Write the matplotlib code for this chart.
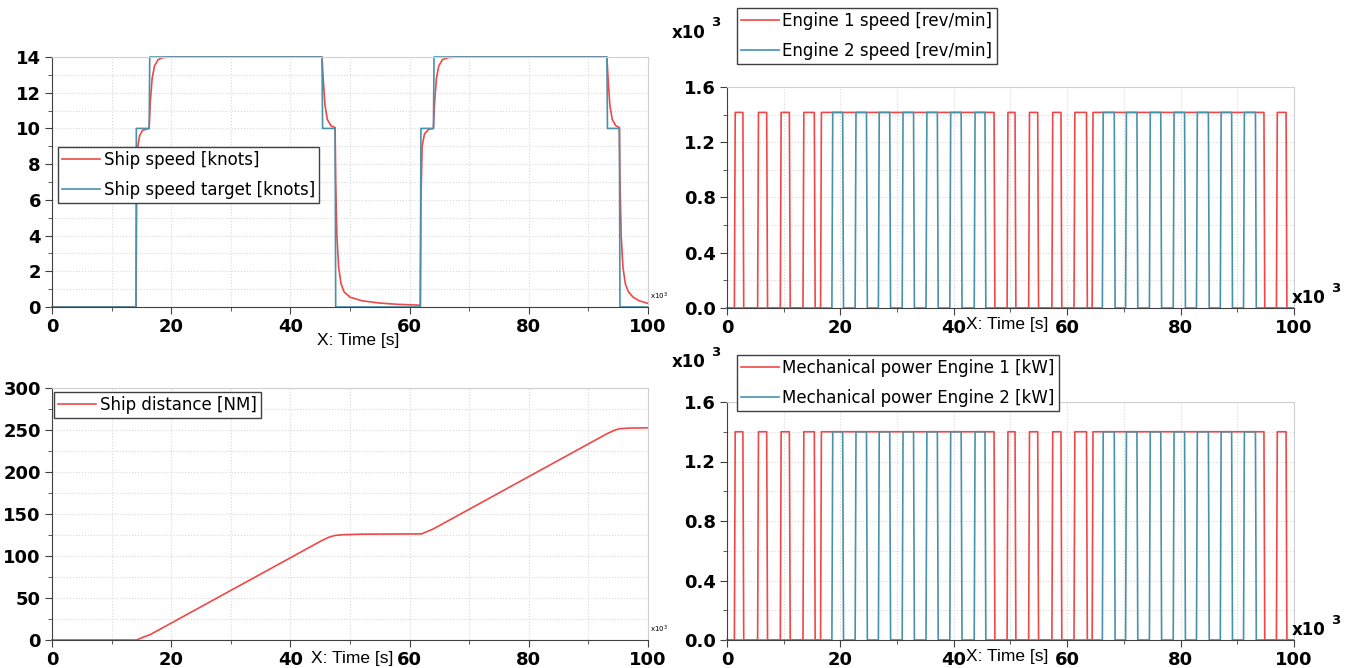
import numpy as np
import matplotlib
matplotlib.use("Agg")
import matplotlib.pyplot as plt
from matplotlib.ticker import MultipleLocator, FormatStrFormatter

RED = "#f04848"
BLUE = "#4a92aa"

# time in x10^3 s
target_t = [0, 14.1, 14.15, 16.3, 16.4, 45.3, 45.4, 47.5, 47.6, 61.8, 61.9, 64.0, 64.1, 93.1, 93.2, 95.2, 95.3, 100]
target_v = [0, 0, 10, 10, 14, 14, 10, 10, 0, 0, 10, 10, 14, 14, 10, 10, 0, 0]

speed_t = [0, 14.1, 14.2, 14.4, 14.7, 15.2, 16.3, 16.5, 16.8, 17.2, 17.8, 18.6, 20, 45.3, 45.5, 45.8, 46.2,
           46.8, 47.5, 47.6, 47.8, 48.1, 48.5, 49.0, 50, 52, 55, 58, 61.8, 61.9, 62.1, 62.5, 63.2, 64.0,
           64.2, 64.5, 64.9, 65.5, 66.5, 68, 93.1, 93.3, 93.6, 94.0, 94.6, 95.2, 95.3, 95.5, 95.8, 96.2,
           96.7, 97.5, 98.5, 100]
speed_v = [0, 0, 6, 9.0, 9.6, 9.9, 10.0, 11.5, 12.8, 13.5, 13.85, 13.97, 14.0, 14.0, 12.8, 11.3, 10.5,
           10.15, 10.05, 7, 4.0, 2.2, 1.3, 0.85, 0.55, 0.35, 0.22, 0.15, 0.1, 6, 9.0, 9.7, 9.95, 10.0,
           11.5, 12.8, 13.5, 13.85, 13.97, 14.0, 14.0, 12.8, 11.3, 10.5, 10.15, 10.05, 7, 4.0, 2.2, 1.3,
           0.85, 0.55, 0.35, 0.2]

dist_t = [0, 14.2, 15.0, 16.5, 45.3, 46.5, 47.5, 49.0, 52, 62.0, 64.0, 93.1, 94.3, 95.3, 97, 100]
dist_v = [0, 0, 2.5, 6.5, 118.5, 122.5, 124.5, 125.4, 126.0, 126.3, 132.3, 245.5, 249.5, 251.6, 252.3, 252.6]

eng1_on = [1.3, 5.4, 9.4, 13.4, 16.5, 49.4, 53.2, 57.3, 61.2, 64.4, 96.9]
eng1_off = [2.8, 7.0, 11.0, 15.4, 47.1, 50.8, 54.8, 58.9, 63.4, 94.7, 98.6]
eng2_on = [18.5, 22.6, 26.7, 30.9, 35.1, 39.3, 43.6, 66.2, 70.3, 74.5, 78.7, 82.8, 87.0, 91.1]
eng2_off = [20.4, 24.6, 28.7, 32.9, 37.1, 41.3, 45.5, 68.3, 72.3, 76.5, 80.7, 84.9, 89.0, 93.2]
eng_speed_max = 1.416
eng_power_max = 1.400


def pulses(on, off, level, ramp=0.15):
    t, y = [0], [0]
    for a, b in zip(on, off):
        t += [a, a + ramp, b, b + ramp]
        y += [0, level, level, 0]
    t.append(100)
    y.append(0)
    return t, y


fig = plt.figure(figsize=(13.51, 6.68), dpi=100)
W, H = 1351, 668
XLAB = dict(ha="center", va="center", fontsize=12.5, family="Liberation Sans")


def box(x0, x1, ytop, ybot):
    return [x0 / W, 1 - ybot / H, (x1 - x0) / W, (ybot - ytop) / H]


def style(ax, ymax, ymaj, ymin, ygrid):
    ax.set_xlim(0, 100)
    ax.set_ylim(0, ymax)
    ax.xaxis.set_major_locator(MultipleLocator(20))
    ax.xaxis.set_minor_locator(MultipleLocator(10))
    ax.yaxis.set_major_locator(MultipleLocator(ymaj))
    ax.set_yticks(np.arange(0, ymax + 1e-9, ygrid), minor=True)
    ax.grid(True, which="both", color="#d8d8d8", linestyle=":", linewidth=0.8)
    for s in ["top", "right"]:
        ax.spines[s].set_color("#d0d0d0")
    for s in ["left", "bottom"]:
        ax.spines[s].set_color("#404040")
    ax.tick_params(which="major", length=5, color="#404040", labelsize=13, pad=3)
    ax.tick_params(which="minor", length=3, color="#404040")


def bold_ticks(ax):
    for lab in ax.get_xticklabels() + ax.get_yticklabels():
        lab.set_fontweight("bold")


def legend(ax, anchor, spacing=0.7):
    lg = ax.legend(loc="upper left", bbox_to_anchor=anchor, fancybox=False, framealpha=1,
                   edgecolor="#404040", fontsize=12, handlelength=2.3, borderpad=0.25,
                   labelspacing=spacing, handletextpad=0.2, borderaxespad=0)
    lg.get_frame().set_linewidth(1.0)


def x10(x, y, size=12):
    fig.text(x / W, 1 - y / H, "x10", fontsize=size, fontweight="bold", va="center", ha="right")
    fig.text((x + 5) / W, 1 - (y - 10) / H, "3", fontsize=9.5, fontweight="bold", va="center")


# top left: ship speed
ax1 = fig.add_axes(box(52, 648, 57, 307))
ax1.plot(speed_t, speed_v, color=RED, lw=1.2, label="Ship speed [knots]", clip_on=False)
ax1.plot(target_t, target_v, color=BLUE, lw=1.2, label="Ship speed target [knots]", clip_on=False)
style(ax1, 14, 2, 1, 1)
bold_ticks(ax1)
legend(ax1, (0.01, 0.64))
ax1.text(1.003, 0.02, "x10$^3$", transform=ax1.transAxes, fontsize=5, va="bottom")
fig.text(358 / W, 1 - 341 / H, "X: Time [s]", **XLAB)

# bottom left: ship distance
ax2 = fig.add_axes(box(52, 648, 388, 640))
ax2.plot(dist_t, dist_v, color=RED, lw=1.2, label="Ship distance [NM]", clip_on=False)
style(ax2, 300, 50, 10, 25)
bold_ticks(ax2)
legend(ax2, (0.003, 0.985))
ax2.text(1.003, 0.02, "x10$^3$", transform=ax2.transAxes, fontsize=5, va="bottom")
fig.text(352 / W, 1 - 659 / H, "X: Time [s]", **XLAB)

# top right: engine speed
ax3 = fig.add_axes(box(727, 1294, 87, 308))
t1, y1 = pulses(eng1_on, eng1_off, eng_speed_max)
t2, y2 = pulses(eng2_on, eng2_off, eng_speed_max)
ax3.plot(t1, y1, color=RED, lw=1.2, label="Engine 1 speed [rev/min]", clip_on=False)
ax3.plot(t2, y2, color=BLUE, lw=1.2, label="Engine 2 speed [rev/min]", clip_on=False)
style(ax3, 1.6, 0.4, 0.1, 0.2)
ax3.yaxis.set_major_formatter(FormatStrFormatter("%.1f"))
bold_ticks(ax3)
legend(ax3, (0.017, 1.357))
fig.text(1007 / W, 1 - 325 / H, "X: Time [s]", **XLAB)
x10(706, 33)
x10(1326, 298)

# bottom right: mechanical power
ax4 = fig.add_axes(box(727, 1294, 402, 640))
t1, y1 = pulses(eng1_on, eng1_off, eng_power_max)
t2, y2 = pulses(eng2_on, eng2_off, eng_power_max)
ax4.plot(t1, y1, color=RED, lw=1.2, label="Mechanical power Engine 1 [kW]", clip_on=False)
ax4.plot(t2, y2, color=BLUE, lw=1.2, label="Mechanical power Engine 2 [kW]", clip_on=False)
style(ax4, 1.6, 0.4, 0.1, 0.2)
ax4.yaxis.set_major_formatter(FormatStrFormatter("%.1f"))
bold_ticks(ax4)
legend(ax4, (0.017, 1.197))
fig.text(1007 / W, 1 - 657 / H, "X: Time [s]", **XLAB)
x10(706, 362)
x10(1326, 630)

fig.savefig("out.png", dpi=100)
